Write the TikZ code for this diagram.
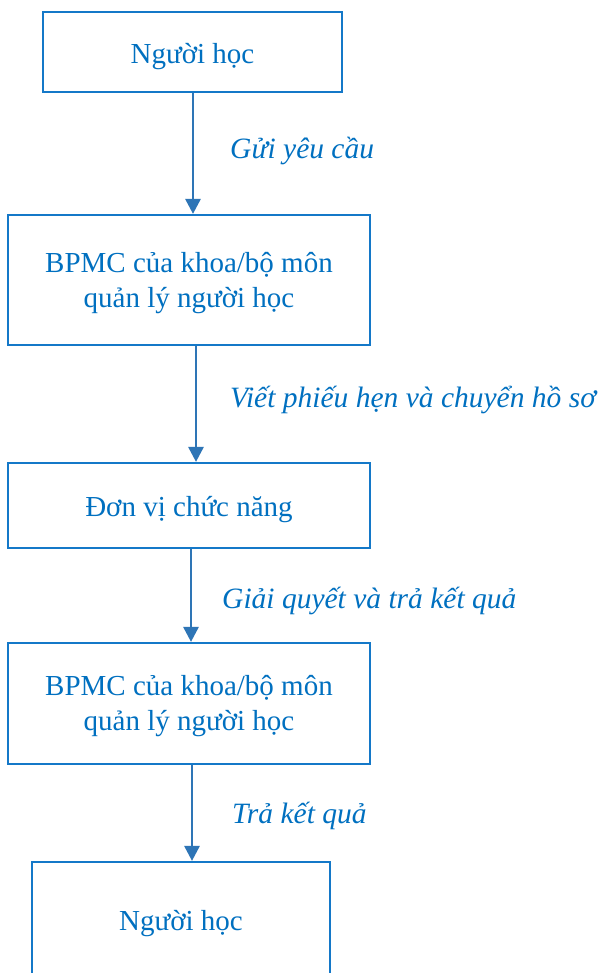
\documentclass[tikz,border=0pt]{standalone}
\usepackage{fontspec}
\setmainfont{Liberation Serif}
\usetikzlibrary{arrows.meta}
\definecolor{txtblue}{RGB}{0,112,192}
\definecolor{boxblue}{RGB}{20,120,200}
\definecolor{arrblue}{RGB}{46,117,182}
\tikzset{
  box/.style={draw=boxblue, line width=2.2pt, rectangle, inner sep=0pt},
  boxtext/.style={text=txtblue, inner sep=0pt, align=center, font=\fontsize{29}{35}\selectfont},
  lbl/.style={text=txtblue, inner sep=0pt, font=\fontsize{29.5}{35}\selectfont\itshape},
  arr/.style={draw=arrblue, line width=2.8pt, -{Triangle[width=15pt,length=15pt]}}
}
\begin{document}
\begin{tikzpicture}[x=1pt,y=-1pt]
\clip (0,0) rectangle (600,973);
\fill[white] (0,0) rectangle (600,973);
\node[box, minimum width=299pt, minimum height=80pt] (b1) at (192.5,52) {};
\node[box, minimum width=362pt, minimum height=130pt] (b2) at (189,280) {};
\node[box, minimum width=362pt, minimum height=85pt] (b3) at (189,505.5) {};
\node[box, minimum width=362pt, minimum height=121pt] (b4) at (189,703.5) {};
\node[box, minimum width=298pt, minimum height=116pt] (b5) at (181,920) {};
\node[boxtext] (t1) at ([yshift=-5pt]b1.center) {Người học};
\node[boxtext] (t2) at ([yshift=-3pt]b2.center) {BPMC của khoa/bộ môn\\quản lý người học};
\node[boxtext] (t3) at ([yshift=-4pt]b3.center) {Đơn vị chức năng};
\node[boxtext] (t4) at ([yshift=-3pt]b4.center) {BPMC của khoa/bộ môn\\quản lý người học};
\node[boxtext] (t5) at ([yshift=-4pt]b5.center) {Người học};
\draw[arr] ([xshift=0.5pt]b1.south) -- ([xshift=0.5pt]b1.south |- b2.north);
\draw[arr] ([xshift=7pt]b2.south) -- ([xshift=7pt]b2.south |- b3.north);
\draw[arr] ([xshift=2pt]b3.south) -- ([xshift=2pt]b3.south |- b4.north);
\draw[arr] ([xshift=3pt]b4.south) -- ([xshift=3pt]b4.south |- b5.north);
\node[lbl, anchor=base west] (l1) at (230,159) {Gửi yêu cầu};
\node[lbl, anchor=base west] (l2) at (230,407) {Viết phiếu hẹn và chuyển hồ sơ};
\node[lbl, anchor=base west] (l3) at (222,608) {Giải quyết và trả kết quả};
\node[lbl, anchor=base west] (l4) at (232,823) {Trả kết quả};
\end{tikzpicture}
\end{document}
